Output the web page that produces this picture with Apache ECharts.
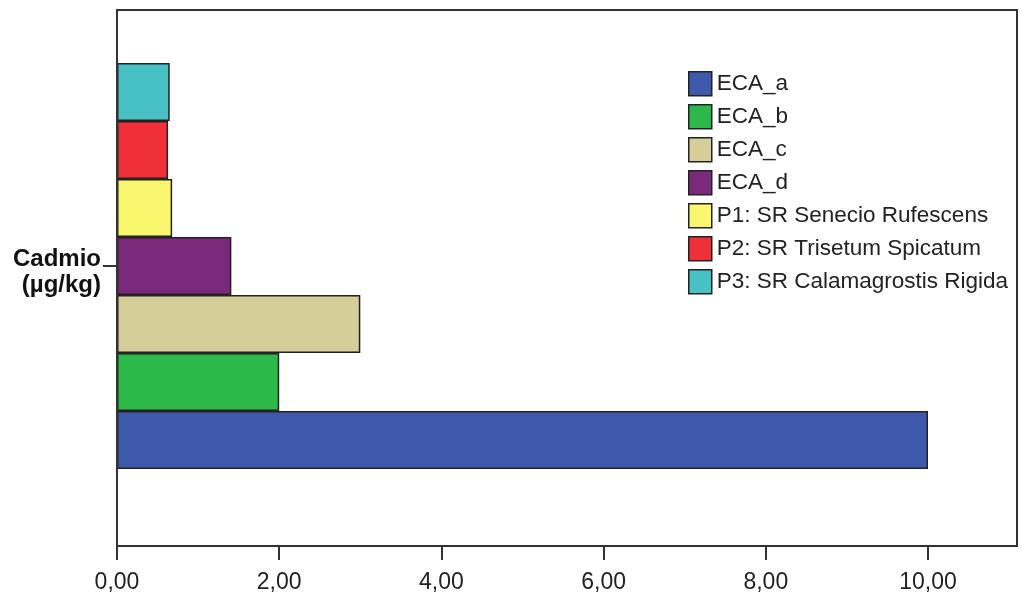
<!DOCTYPE html>
<html><head><meta charset="utf-8">
<script src="https://cdn.jsdelivr.net/npm/echarts@6/dist/echarts.min.js"></script>
<style>html,body{margin:0;padding:0;background:#fff}#c{width:1022px;height:597px}</style>
</head><body><div id="c"></div>
<script>
const categories = ['Cadmio\n(µg/kg)'];
const seriesNames = ['ECA_a','ECA_b','ECA_c','ECA_d','P1: SR Senecio Rufescens','P2: SR Trisetum Spicatum','P3: SR Calamagrostis Rigida'];
const seriesValues = [10.0, 2.0, 3.0, 1.41, 0.68, 0.63, 0.65];
const seriesColors = ['#3E58AC','#2DB84A','#D5CE99','#7B2A7B','#FAF76E','#EF3038','#48C1C5'];
const xTicks = [0, 2, 4, 6, 8, 10];

const chart = echarts.init(document.getElementById('c'), null, {renderer:'canvas'});
const FONT = "'Liberation Sans', Arial, sans-serif";
const order = seriesNames.map((n,i)=>i).reverse();
chart.setOption({
  animation:false,
  backgroundColor:'#fff',
  textStyle:{fontFamily:FONT},
  grid:{left:117, top:10, width:811, height:512, containLabel:false},
  xAxis:{type:'value', min:xTicks[0], max:xTicks[xTicks.length-1], interval:2, offset:24,
    axisLine:{show:false},
    axisTick:{show:true, length:14, lineStyle:{color:'#333', width:2}},
    splitLine:{show:false},
    axisLabel:{fontSize:23, color:'#222', margin:25, fontFamily:FONT,
      formatter:v=>v.toFixed(2).replace('.',',')}
  },
  yAxis:{type:'category', data:categories,
    axisLine:{show:false},
    axisTick:{show:true, alignWithLabel:true, length:14, lineStyle:{color:'#333', width:2}},
    axisLabel:{margin:16, align:'right', fontFamily:FONT,
      formatter:v=>'{s| }\n' + v.split('\n').map(t=>'{a|'+t+'}').join('\n'),
      rich:{
        s:{fontSize:10, lineHeight:12, align:'right'},
        a:{fontSize:24, fontWeight:'bold', color:'#111', lineHeight:26, align:'right', fontFamily:FONT}
      }}
  },
  legend:{orient:'vertical', left:688, top:71, padding:0, itemWidth:23, itemHeight:24, itemGap:7.5,
    icon:'rect', data:seriesNames,
    itemStyle:{borderColor:'#222', borderWidth:1.5},
    textStyle:{fontSize:22.5, color:'#222', fontFamily:FONT}},
  graphic:[{type:'rect', shape:{x:117, y:10, width:900, height:536}, z:100,
    style:{fill:'none', stroke:'#333', lineWidth:2}}],
  series: order.map(i=>({
    name:seriesNames[i], type:'bar', data:[seriesValues[i]], barWidth:58, barGap:'0%',
    itemStyle:{color:seriesColors[i], borderColor:'#222', borderWidth:1.5}
  }))
});
</script></body></html>
